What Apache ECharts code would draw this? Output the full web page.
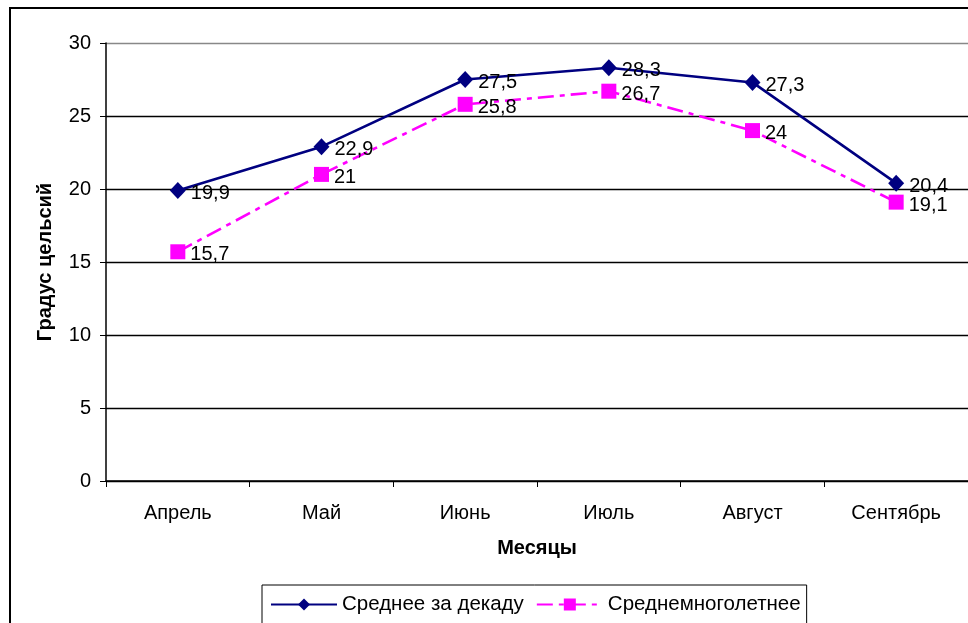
<!DOCTYPE html>
<html>
<head>
<meta charset="utf-8">
<script src="https://cdn.jsdelivr.net/npm/echarts@6/dist/echarts.min.js"></script>
<style>
  html, body { margin: 0; padding: 0; background: #fff; }
  #chart { width: 968px; height: 623px; }
</style>
</head>
<body>
<div id="chart"></div>
<script>
// months and the two temperature series
const months = ['Апрель', 'Май', 'Июнь', 'Июль', 'Август', 'Сентябрь'];
const decadeAvg = [19.9, 22.9, 27.5, 28.3, 27.3, 20.4];
const longTermAvg = [15.7, 21, 25.8, 26.7, 24, 19.1];
const yTicks = [0, 5, 10, 15, 20, 25, 30];

const font = 'Liberation Sans, Arial, sans-serif';
const fmt = p => String(p.value).replace('.', ',');

const chart = echarts.init(document.getElementById('chart'), null, { renderer: 'canvas' });
chart.setOption({
  animation: false,
  backgroundColor: '#fff',
  textStyle: { fontFamily: font },
  graphic: [{
    type: 'rect',
    shape: { x: 10, y: 8, width: 1000, height: 700 },
    style: { fill: 'none', stroke: '#000', lineWidth: 2 },
    silent: true,
    z: -1
  }],
  grid: { left: 106, right: 0, top: 43, bottom: 142 },
  legend: {
    left: 262,
    top: 585,
    padding: [9, 6, 30, 8],
    borderColor: '#000',
    borderWidth: 1,
    itemWidth: 66,
    itemHeight: 15,
    itemGap: 12,
    textStyle: { fontSize: 20.5, color: '#000', fontFamily: font },
    data: ['Среднее за декаду', 'Среднемноголетнее']
  },
  xAxis: {
    type: 'category',
    data: months,
    boundaryGap: true,
    name: 'Месяцы',
    nameLocation: 'middle',
    nameGap: 57,
    nameTextStyle: { fontSize: 20, fontWeight: 'bold', color: '#000', fontFamily: font },
    axisLine: { lineStyle: { color: '#000', width: 1.5 } },
    axisTick: { show: true, alignWithLabel: false, length: 6, lineStyle: { color: '#000' } },
    axisLabel: { fontSize: 20, color: '#000', margin: 22, fontFamily: font }
  },
  yAxis: {
    type: 'value',
    min: yTicks[0],
    max: yTicks[yTicks.length - 1],
    interval: 5,
    name: 'Градус цельсий',
    nameLocation: 'middle',
    nameGap: 51,
    nameTextStyle: { fontSize: 20, fontWeight: 'bold', color: '#000', fontFamily: font },
    axisLine: { show: true, lineStyle: { color: '#000', width: 1.5 } },
    axisTick: { show: true, length: 6, lineStyle: { color: '#000' } },
    axisLabel: { fontSize: 20, color: '#000', margin: 15, fontFamily: font },
    splitLine: {
      show: true,
      lineStyle: { color: ['#000', '#000', '#000', '#000', '#000', '#000', '#888'], width: 1.3 }
    }
  },
  series: [
    {
      name: 'Среднее за декаду',
      type: 'line',
      data: decadeAvg,
      symbol: 'diamond',
      symbolSize: [16, 17],
      itemStyle: { color: '#000080' },
      lineStyle: { color: '#000080', width: 2.6 },
      label: {
        show: true, position: 'right', distance: 5, offset: [0, 3],
        formatter: fmt, fontSize: 20, color: '#000', fontFamily: font
      },
      z: 3
    },
    {
      name: 'Среднемноголетнее',
      type: 'line',
      data: longTermAvg,
      symbol: 'rect',
      symbolSize: 15,
      itemStyle: { color: '#ff00ff' },
      lineStyle: { color: '#ff00ff', width: 2.6, type: [16, 6, 5, 6] },
      label: {
        show: true, position: 'right', distance: 5, offset: [0, 3],
        formatter: fmt, fontSize: 20, color: '#000', fontFamily: font
      },
      z: 2
    }
  ]
});
</script>
</body>
</html>
